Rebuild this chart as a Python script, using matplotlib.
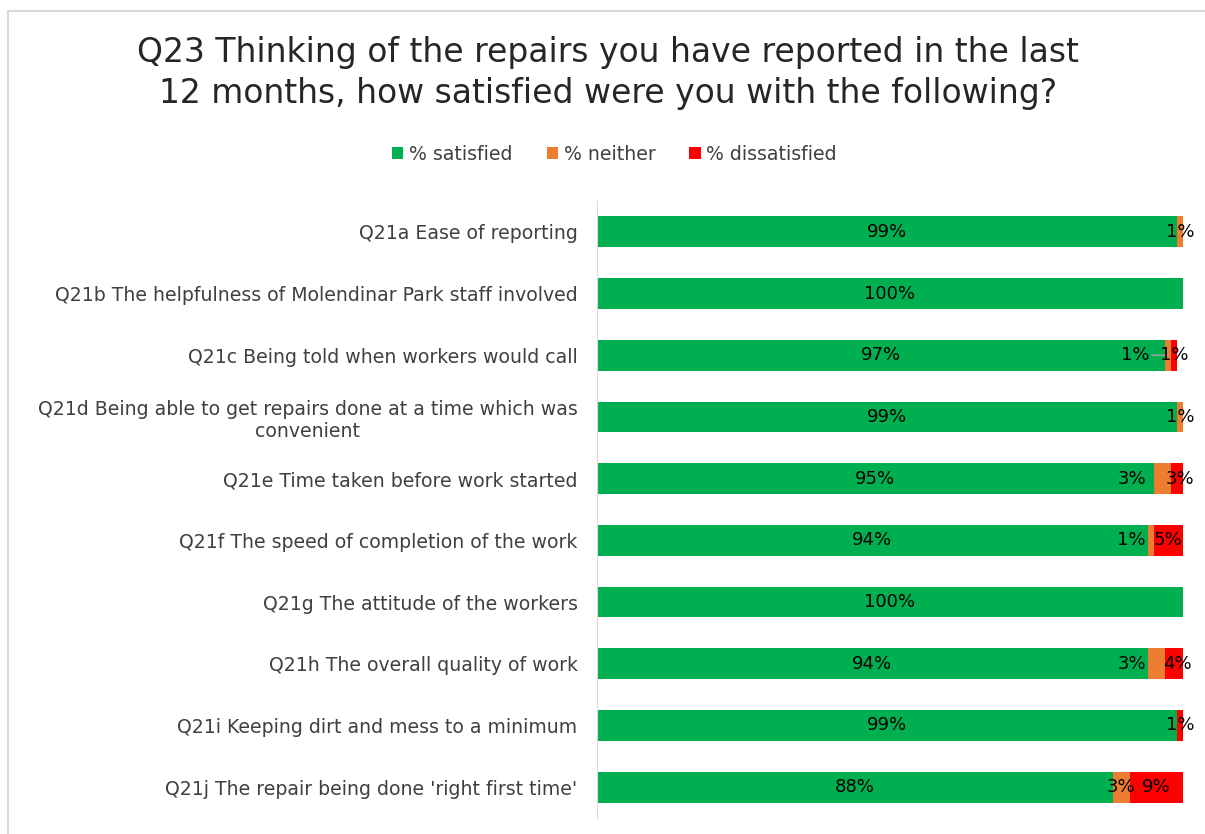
import numpy as np
import matplotlib.pyplot as plt
from matplotlib.patches import Rectangle

questions = [
    "Q21a Ease of reporting",
    "Q21b The helpfulness of Molendinar Park staff involved",
    "Q21c Being told when workers would call",
    "Q21d Being able to get repairs done at a time which was\nconvenient",
    "Q21e Time taken before work started",
    "Q21f The speed of completion of the work",
    "Q21g The attitude of the workers",
    "Q21h The overall quality of work",
    "Q21i Keeping dirt and mess to a minimum",
    "Q21j The repair being done 'right first time'",
]
satisfied = [99, 100, 97, 99, 95, 94, 100, 94, 99, 88]
neither = [1, 0, 1, 1, 3, 1, 0, 3, 0, 3]
dissatisfied = [0, 0, 1, 0, 3, 5, 0, 4, 1, 9]

# nudges (points) for the crowded "neither" labels
neither_dx = [0, 0, -24, 0, -22, -14, 0, -18, 0, 0]
leader = [False, False, True, False, False, False, False, False, False, False]

green, orange, red = "#00B050", "#ED7D31", "#FF0000"
txt = "#404040"

plt.rcParams["font.family"] = "DejaVu Sans"

fig = plt.figure(figsize=(12.05, 8.34), dpi=100)
ax = fig.add_axes([0.4954, 0.0192, 0.4863, 0.7398])

y = np.arange(len(questions))
sat = np.array(satisfied)
nei = np.array(neither)
dis = np.array(dissatisfied)
h = 0.5
ax.barh(y, sat, height=h, color=green, label="% satisfied")
ax.barh(y, nei, left=sat, height=h, color=orange, label="% neither")
ax.barh(y, dis, left=sat + nei, height=h, color=red, label="% dissatisfied")

ax.set_xlim(0, 100)
ax.set_ylim(len(questions) - 0.5, -0.5)
ax.set_xticks([])
ax.set_yticks(y)
ax.set_yticklabels(questions, fontsize=13.6, color=txt, ha="right",
                   multialignment="center")
ax.tick_params(axis="y", length=0, pad=14)
for s in ["top", "right", "bottom"]:
    ax.spines[s].set_visible(False)
ax.spines["left"].set_color("#d9d9d9")

# value labels
for i in y:
    ax.text(sat[i] / 2, i, f"{sat[i]}%", ha="center", va="center",
            fontsize=13, color="black")
    if nei[i] > 0:
        xc = sat[i] + nei[i] / 2
        arrow = None
        if leader[i]:
            arrow = dict(arrowstyle="-", color="#a6a6a6", lw=1,
                         shrinkA=12, shrinkB=0)
        ax.annotate(f"{nei[i]}%", xy=(xc, i), xytext=(neither_dx[i], 0),
                    textcoords="offset points", ha="center", va="center",
                    fontsize=13, arrowprops=arrow)
    if dis[i] > 0:
        xc = sat[i] + nei[i] + dis[i] / 2
        ax.text(xc, i, f"{dis[i]}%", ha="center", va="center",
                fontsize=13, clip_on=False)

fig.text(0.5046, 0.912, "Q23 Thinking of the repairs you have reported in the last\n"
         "12 months, how satisfied were you with the following?",
         ha="center", va="center", fontsize=23.8, color="#262626",
         linespacing=1.3)

fig.legend(loc="center", bbox_to_anchor=(0.51, 0.815), ncol=3, frameon=False,
           fontsize=13.6, handlelength=0.6, handleheight=0.6,
           handletextpad=0.3, columnspacing=1.8, labelcolor=txt)

# chart frame
fig.patches.append(Rectangle((8 / 1205, -0.01), 1.2, 1 - 11 / 834 + 0.01,
                             transform=fig.transFigure, fill=False,
                             edgecolor="#d9d9d9", lw=1.5))

fig.savefig("out.png", dpi=100)
